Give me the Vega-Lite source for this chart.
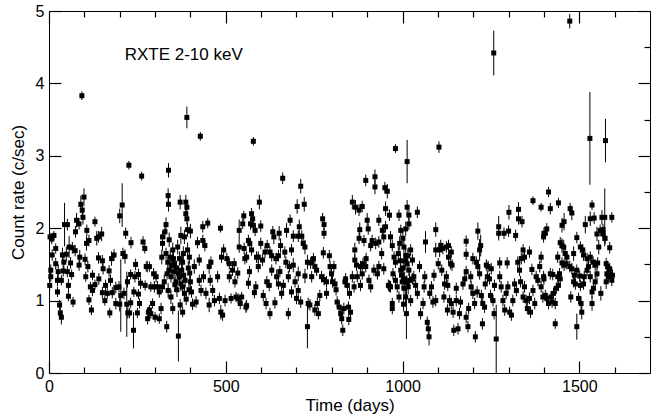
{
  "$schema": "https://vega.github.io/schema/vega-lite/v6.json",
  "width": 601,
  "height": 362,
  "autosize": {"type": "none"},
  "padding": {"left": 49, "top": 11, "right": 11, "bottom": 43},
  "config": {
    "view": {"stroke": "black", "strokeWidth": 1},
    "font": "Liberation Sans",
    "axis": {"grid": false, "labelFont": "Liberation Sans", "titleFont": "Liberation Sans", "labelFontSize": 16, "titleFontSize": 17, "titleFontWeight": "normal", "labelColor": "black", "titleColor": "black", "domainColor": "black", "tickColor": "black", "domainWidth": 1, "tickWidth": 1.2}
  },
  "resolve": {"axis": {"x": "independent", "y": "independent"}},
  "datasets": {
    "lc": [
{"t":2,"r":1.21,"e":0.07},{"t":5,"r":1.42,"e":0.08},{"t":5,"r":1.33,"e":0.07},{"t":9,"r":1.63,"e":0.08},{"t":3,"r":1.88,"e":0.06},{"t":8,"r":1.85,"e":0.07},{"t":14,"r":1.9,"e":0.06},{"t":19,"r":1.72,"e":0.07},{"t":19,"r":1.51,"e":0.08},{"t":24,"r":1.12,"e":0.07},{"t":24,"r":1.28,"e":0.08},{"t":26,"r":1.4,"e":0.1},{"t":30,"r":0.94,"e":0.07},{"t":32,"r":0.83,"e":0.08},{"t":35,"r":0.77,"e":0.1},{"t":35,"r":1.28,"e":0.07},{"t":38,"r":1.63,"e":0.1},{"t":40,"r":1.41,"e":0.08},{"t":42,"r":1.53,"e":0.12},{"t":44,"r":2.05,"e":0.3},{"t":49,"r":1.64,"e":0.1},{"t":52,"r":2.05,"e":0.08},{"t":52,"r":1.4,"e":0.08},{"t":55,"r":1.21,"e":0.09},{"t":55,"r":1.06,"e":0.07},{"t":57,"r":1.74,"e":0.15},{"t":61,"r":1.52,"e":0.08},{"t":64,"r":1.36,"e":0.07},{"t":66,"r":1.73,"e":0.08},{"t":68,"r":0.98,"e":0.07},{"t":74,"r":1.69,"e":0.08},{"t":75,"r":1.95,"e":0.08},{"t":78,"r":2.11,"e":0.1},{"t":85,"r":2.06,"e":0.08},{"t":85,"r":1.49,"e":0.08},{"t":87,"r":1.6,"e":0.1},{"t":90,"r":2.33,"e":0.12},{"t":93,"r":3.83,"e":0.06},{"t":94,"r":2.25,"e":0.08},{"t":96,"r":2.15,"e":0.1},{"t":99,"r":2.43,"e":0.12},{"t":102,"r":1.57,"e":0.08},{"t":104,"r":1.33,"e":0.07},{"t":106,"r":1.79,"e":0.1},{"t":107,"r":1.97,"e":0.08},{"t":110,"r":1.47,"e":0.08},{"t":113,"r":1.83,"e":0.08},{"t":113,"r":1.01,"e":0.07},{"t":117,"r":1.19,"e":0.07},{"t":120,"r":0.87,"e":0.07},{"t":123,"r":1.35,"e":0.07},{"t":123,"r":1.14,"e":0.08},{"t":130,"r":2.09,"e":0.07},{"t":130,"r":1.22,"e":0.07},{"t":135,"r":1.86,"e":0.1},{"t":140,"r":1.88,"e":0.08},{"t":140,"r":1.59,"e":0.08},{"t":141,"r":1.3,"e":0.08},{"t":149,"r":1.92,"e":0.1},{"t":151,"r":1.55,"e":0.08},{"t":151,"r":1.11,"e":0.08},{"t":153,"r":1.44,"e":0.08},{"t":158,"r":1.0,"e":0.07},{"t":160,"r":1.21,"e":0.08},{"t":165,"r":1.1,"e":0.07},{"t":170,"r":1.41,"e":0.08},{"t":172,"r":0.83,"e":0.07},{"t":174,"r":1.28,"e":0.08},{"t":177,"r":1.58,"e":0.1},{"t":179,"r":1.11,"e":0.08},{"t":184,"r":1.63,"e":0.08},{"t":189,"r":1.18,"e":0.08},{"t":189,"r":0.96,"e":0.08},{"t":198,"r":1.19,"e":0.08},{"t":200,"r":2.17,"e":0.1},{"t":200,"r":0.95,"e":0.1},{"t":203,"r":1.07,"e":0.5},{"t":207,"r":2.32,"e":0.3},{"t":209,"r":1.65,"e":0.08},{"t":212,"r":1.1,"e":0.08},{"t":215,"r":1.61,"e":0.1},{"t":217,"r":1.93,"e":0.08},{"t":220,"r":0.95,"e":0.45},{"t":222,"r":1.26,"e":0.08},{"t":223,"r":0.83,"e":0.08},{"t":226,"r":2.87,"e":0.06},{"t":228,"r":0.83,"e":0.07},{"t":231,"r":1.36,"e":0.07},{"t":231,"r":0.97,"e":0.07},{"t":232,"r":1.8,"e":0.08},{"t":239,"r":0.59,"e":0.25},{"t":240,"r":1.12,"e":0.07},{"t":243,"r":1.33,"e":0.08},{"t":245,"r":1.5,"e":0.08},{"t":250,"r":0.83,"e":0.07},{"t":253,"r":1.36,"e":0.08},{"t":253,"r":1.09,"e":0.07},{"t":256,"r":0.96,"e":0.07},{"t":259,"r":1.24,"e":0.08},{"t":262,"r":2.72,"e":0.06},{"t":266,"r":1.81,"e":0.08},{"t":271,"r":1.72,"e":0.07},{"t":272,"r":1.21,"e":0.07},{"t":275,"r":1.47,"e":0.07},{"t":278,"r":1.47,"e":0.08},{"t":279,"r":0.75,"e":0.08},{"t":281,"r":0.84,"e":0.07},
{"t":284,"r":1.47,"e":0.07},{"t":284,"r":0.87,"e":0.07},{"t":288,"r":0.82,"e":0.07},{"t":288,"r":1.19,"e":0.07},{"t":293,"r":0.96,"e":0.07},{"t":296,"r":1.37,"e":0.08},{"t":298,"r":1.19,"e":0.08},{"t":300,"r":0.77,"e":0.07},{"t":303,"r":1.33,"e":0.08},{"t":307,"r":1.19,"e":0.08},{"t":312,"r":1.12,"e":0.08},{"t":312,"r":0.75,"e":0.07},{"t":317,"r":0.89,"e":0.08},{"t":319,"r":1.6,"e":0.1},{"t":321,"r":1.88,"e":0.08},{"t":321,"r":1.79,"e":0.1},{"t":321,"r":1.19,"e":0.08},{"t":326,"r":1.26,"e":0.1},{"t":328,"r":1.95,"e":0.1},{"t":331,"r":2.05,"e":0.1},{"t":331,"r":1.65,"e":0.08},{"t":333,"r":0.64,"e":0.08},{"t":334,"r":1.37,"e":0.08},{"t":336,"r":1.53,"e":0.08},{"t":337,"r":2.45,"e":0.1},{"t":337,"r":1.14,"e":0.1},{"t":338,"r":2.8,"e":0.1},{"t":338,"r":2.33,"e":0.1},{"t":340,"r":1.84,"e":0.1},{"t":340,"r":1.42,"e":0.1},{"t":343,"r":1.6,"e":0.1},{"t":345,"r":1.33,"e":0.08},{"t":345,"r":1.05,"e":0.1},{"t":347,"r":1.48,"e":0.1},{"t":350,"r":1.7,"e":0.1},{"t":350,"r":0.89,"e":0.08},{"t":352,"r":1.58,"e":0.1},{"t":354,"r":1.51,"e":0.1},{"t":354,"r":1.4,"e":0.1},{"t":356,"r":1.22,"e":0.1},{"t":359,"r":1.26,"e":0.1},{"t":361,"r":1.45,"e":0.1},{"t":362,"r":1.15,"e":0.1},{"t":364,"r":1.74,"e":0.1},{"t":366,"r":0.51,"e":0.35},{"t":366,"r":1.38,"e":0.1},{"t":369,"r":1.58,"e":0.1},{"t":369,"r":1.33,"e":0.1},{"t":371,"r":2.36,"e":0.1},{"t":371,"r":0.94,"e":0.08},{"t":373,"r":1.9,"e":0.12},{"t":373,"r":1.23,"e":0.1},{"t":375,"r":1.42,"e":0.1},{"t":378,"r":1.53,"e":0.1},{"t":378,"r":1.19,"e":0.1},{"t":378,"r":0.84,"e":0.07},{"t":380,"r":1.65,"e":0.1},{"t":381,"r":1.35,"e":0.1},{"t":383,"r":1.88,"e":0.1},{"t":383,"r":1.1,"e":0.08},{"t":385,"r":1.28,"e":0.1},{"t":387,"r":2.36,"e":0.1},{"t":387,"r":2.2,"e":0.1},{"t":388,"r":1.02,"e":0.08},{"t":390,"r":3.53,"e":0.15},{"t":390,"r":2.29,"e":0.1},{"t":390,"r":2.13,"e":0.08},{"t":392,"r":1.98,"e":0.1},{"t":392,"r":1.7,"e":0.1},{"t":394,"r":1.45,"e":0.1},{"t":396,"r":1.15,"e":0.08},{"t":397,"r":1.6,"e":0.1},{"t":398,"r":1.38,"e":0.1},{"t":400,"r":1.96,"e":0.1},{"t":400,"r":1.26,"e":0.08},{"t":403,"r":1.12,"e":0.08},{"t":406,"r":0.95,"e":0.08},{"t":411,"r":1.47,"e":0.1},{"t":416,"r":0.98,"e":0.08},{"t":420,"r":1.8,"e":0.08},{"t":425,"r":1.56,"e":0.08},{"t":425,"r":1.28,"e":0.08},{"t":428,"r":3.27,"e":0.06},{"t":430,"r":1.14,"e":0.08},{"t":435,"r":2.02,"e":0.08},{"t":435,"r":1.83,"e":0.08},{"t":437,"r":1.33,"e":0.08},{"t":441,"r":1.76,"e":0.08},{"t":444,"r":1.1,"e":0.08},{"t":449,"r":2.07,"e":0.07},{"t":453,"r":1.47,"e":0.1},{"t":453,"r":0.94,"e":0.1},{"t":456,"r":1.28,"e":0.08},{"t":458,"r":1.53,"e":0.08},{"t":463,"r":1.14,"e":0.08},{"t":468,"r":1.0,"e":0.08},{"t":477,"r":1.33,"e":0.08},{"t":482,"r":1.03,"e":0.08},{"t":485,"r":2.0,"e":0.06},{"t":486,"r":0.84,"e":0.1},{"t":488,"r":1.6,"e":0.08},{"t":491,"r":0.8,"e":0.08},{"t":494,"r":1.7,"e":0.08},{"t":498,"r":1.0,"e":0.08},{"t":503,"r":1.58,"e":0.08},{"t":510,"r":1.51,"e":0.08},{"t":510,"r":1.33,"e":0.08},{"t":515,"r":1.03,"e":0.07},{"t":519,"r":1.42,"e":0.08},{"t":524,"r":1.51,"e":0.08},{"t":526,"r":1.26,"e":0.08},{"t":529,"r":1.05,"e":0.07},{"t":534,"r":1.38,"e":0.08},{"t":535,"r":1.03,"e":0.07},{"t":538,"r":1.97,"e":0.15},{"t":538,"r":1.74,"e":0.08},{"t":541,"r":0.96,"e":0.08},{"t":545,"r":1.05,"e":0.07},{"t":548,"r":2.06,"e":0.07},{"t":551,"r":2.17,"e":0.07},{"t":552,"r":1.72,"e":0.08},{"t":554,"r":1.58,"e":0.08},{"t":557,"r":0.91,"e":0.08},
{"t":559,"r":1.6,"e":0.08},{"t":559,"r":0.93,"e":0.08},{"t":564,"r":1.83,"e":0.08},{"t":564,"r":1.24,"e":0.08},{"t":567,"r":1.4,"e":0.08},{"t":568,"r":1.79,"e":0.08},{"t":570,"r":2.06,"e":0.08},{"t":573,"r":2.2,"e":0.08},{"t":573,"r":1.7,"e":0.08},{"t":576,"r":2.13,"e":0.08},{"t":578,"r":3.2,"e":0.06},{"t":578,"r":2.04,"e":0.08},{"t":581,"r":1.11,"e":0.08},{"t":583,"r":1.97,"e":0.08},{"t":585,"r":1.19,"e":0.08},{"t":587,"r":1.6,"e":0.08},{"t":592,"r":1.6,"e":0.08},{"t":592,"r":1.47,"e":0.08},{"t":595,"r":2.36,"e":0.1},{"t":599,"r":2.03,"e":0.08},{"t":599,"r":1.79,"e":0.08},{"t":604,"r":1.56,"e":0.08},{"t":606,"r":1.07,"e":0.08},{"t":611,"r":1.67,"e":0.08},{"t":614,"r":0.96,"e":0.08},{"t":616,"r":1.26,"e":0.08},{"t":617,"r":1.76,"e":0.08},{"t":623,"r":1.21,"e":0.08},{"t":625,"r":1.67,"e":0.08},{"t":625,"r":0.82,"e":0.08},{"t":630,"r":1.62,"e":0.08},{"t":630,"r":1.42,"e":0.08},{"t":633,"r":1.95,"e":0.08},{"t":636,"r":1.88,"e":0.1},{"t":639,"r":0.97,"e":0.08},{"t":642,"r":1.58,"e":0.08},{"t":644,"r":1.33,"e":0.1},{"t":649,"r":1.62,"e":0.08},{"t":649,"r":1.23,"e":0.08},{"t":651,"r":1.93,"e":0.1},{"t":653,"r":1.4,"e":0.08},{"t":655,"r":1.76,"e":0.1},{"t":658,"r":1.1,"e":0.08},{"t":661,"r":2.69,"e":0.08},{"t":663,"r":1.21,"e":0.08},{"t":667,"r":1.67,"e":0.08},{"t":670,"r":1.53,"e":0.08},{"t":672,"r":1.97,"e":0.1},{"t":677,"r":1.33,"e":0.08},{"t":677,"r":0.82,"e":0.08},{"t":680,"r":1.47,"e":0.08},{"t":682,"r":2.11,"e":0.08},{"t":686,"r":1.7,"e":0.08},{"t":686,"r":1.12,"e":0.08},{"t":691,"r":1.89,"e":0.08},{"t":691,"r":1.49,"e":0.1},{"t":696,"r":1.26,"e":0.08},{"t":700,"r":1.03,"e":0.08},{"t":702,"r":2.3,"e":0.1},{"t":705,"r":1.89,"e":0.08},{"t":705,"r":1.37,"e":0.1},{"t":705,"r":1.14,"e":0.08},{"t":708,"r":2.02,"e":0.1},{"t":712,"r":2.58,"e":0.1},{"t":712,"r":0.98,"e":0.08},{"t":715,"r":1.89,"e":0.08},{"t":719,"r":1.79,"e":0.08},{"t":722,"r":2.33,"e":0.1},{"t":724,"r":1.74,"e":0.1},{"t":724,"r":1.34,"e":0.1},{"t":731,"r":1.53,"e":0.1},{"t":731,"r":0.64,"e":0.3},{"t":733,"r":0.96,"e":0.08},{"t":738,"r":0.94,"e":0.08},{"t":740,"r":1.52,"e":0.08},{"t":743,"r":1.33,"e":0.08},{"t":748,"r":1.58,"e":0.08},{"t":752,"r":1.47,"e":0.08},{"t":752,"r":0.87,"e":0.08},{"t":757,"r":1.42,"e":0.08},{"t":759,"r":0.96,"e":0.08},{"t":762,"r":0.82,"e":0.08},{"t":766,"r":1.07,"e":0.08},{"t":771,"r":1.33,"e":0.08},{"t":774,"r":2.13,"e":0.08},{"t":776,"r":1.66,"e":0.08},{"t":778,"r":2.05,"e":0.08},{"t":778,"r":1.93,"e":0.08},{"t":778,"r":1.29,"e":0.08},{"t":785,"r":1.26,"e":0.08},{"t":785,"r":1.1,"e":0.08},{"t":793,"r":1.62,"e":0.08},{"t":795,"r":1.47,"e":0.08},{"t":799,"r":1.37,"e":0.08},{"t":802,"r":1.26,"e":0.08},{"t":806,"r":1.47,"e":0.08},{"t":809,"r":1.23,"e":0.08},{"t":812,"r":1.15,"e":0.08},{"t":815,"r":0.98,"e":0.08},{"t":821,"r":0.91,"e":0.08},{"t":825,"r":0.82,"e":0.08},{"t":828,"r":0.75,"e":0.08},{"t":831,"r":0.59,"e":0.08},{"t":834,"r":0.89,"e":0.08},{"t":837,"r":1.26,"e":0.08},
{"t":839,"r":1.3,"e":0.08},{"t":844,"r":1.21,"e":0.08},{"t":847,"r":0.91,"e":0.08},{"t":848,"r":0.74,"e":0.08},{"t":850,"r":1.1,"e":0.08},{"t":853,"r":0.84,"e":0.08},{"t":858,"r":2.36,"e":0.1},{"t":858,"r":1.33,"e":0.08},{"t":863,"r":1.19,"e":0.08},{"t":865,"r":1.7,"e":0.1},{"t":865,"r":1.56,"e":0.08},{"t":867,"r":2.29,"e":0.1},{"t":870,"r":1.49,"e":0.08},{"t":872,"r":1.33,"e":0.08},{"t":877,"r":2.25,"e":0.08},{"t":877,"r":1.86,"e":0.08},{"t":879,"r":1.98,"e":0.1},{"t":881,"r":1.47,"e":0.08},{"t":881,"r":1.21,"e":0.08},{"t":886,"r":2.3,"e":0.08},{"t":886,"r":1.37,"e":0.08},{"t":888,"r":1.51,"e":0.08},{"t":891,"r":1.83,"e":0.08},{"t":896,"r":2.66,"e":0.08},{"t":896,"r":1.47,"e":0.08},{"t":897,"r":1.58,"e":0.08},{"t":900,"r":2.11,"e":0.1},{"t":903,"r":1.99,"e":0.08},{"t":905,"r":1.28,"e":0.08},{"t":910,"r":1.76,"e":0.08},{"t":910,"r":1.19,"e":0.08},{"t":914,"r":1.83,"e":0.08},{"t":919,"r":1.42,"e":0.08},{"t":922,"r":2.71,"e":0.1},{"t":922,"r":2.57,"e":0.1},{"t":924,"r":1.79,"e":0.08},{"t":929,"r":1.37,"e":0.08},{"t":933,"r":2.11,"e":0.08},{"t":933,"r":1.81,"e":0.08},{"t":933,"r":1.47,"e":0.08},{"t":941,"r":1.65,"e":0.08},{"t":943,"r":1.97,"e":0.08},{"t":947,"r":1.88,"e":0.08},{"t":947,"r":1.44,"e":0.08},{"t":950,"r":2.56,"e":0.08},{"t":952,"r":2.27,"e":0.1},{"t":952,"r":2.02,"e":0.08},{"t":957,"r":2.51,"e":0.1},{"t":960,"r":1.21,"e":0.08},{"t":963,"r":2.18,"e":0.08},{"t":963,"r":1.2,"e":0.08},{"t":966,"r":1.88,"e":0.08},{"t":966,"r":1.19,"e":0.08},{"t":971,"r":1.76,"e":0.08},{"t":971,"r":0.96,"e":0.08},{"t":971,"r":0.89,"e":0.08},{"t":973,"r":1.37,"e":0.08},{"t":976,"r":1.6,"e":0.08},{"t":980,"r":3.1,"e":0.06},{"t":980,"r":1.53,"e":0.08},{"t":980,"r":1.28,"e":0.08},{"t":985,"r":1.19,"e":0.08},{"t":988,"r":1.65,"e":0.1},{"t":990,"r":2.18,"e":0.08},{"t":990,"r":1.05,"e":0.08},{"t":992,"r":1.79,"e":0.1},{"t":994,"r":1.55,"e":0.1},{"t":995,"r":1.97,"e":0.08},{"t":995,"r":1.42,"e":0.08},{"t":997,"r":1.35,"e":0.1},{"t":999,"r":1.26,"e":0.1},{"t":1001,"r":1.86,"e":0.1},{"t":1002,"r":1.45,"e":0.1},{"t":1003,"r":0.95,"e":0.1},{"t":1004,"r":1.74,"e":0.1},{"t":1004,"r":1.17,"e":0.1},{"t":1006,"r":1.3,"e":0.1},{"t":1007,"r":1.55,"e":0.1},{"t":1009,"r":1.99,"e":0.1},{"t":1009,"r":1.62,"e":0.1},{"t":1009,"r":1.05,"e":0.1},{"t":1011,"r":0.82,"e":0.35},{"t":1012,"r":1.25,"e":0.1},{"t":1013,"r":2.92,"e":0.3},{"t":1013,"r":2.29,"e":0.1},{"t":1013,"r":1.51,"e":0.1},{"t":1015,"r":1.62,"e":0.1},{"t":1016,"r":1.19,"e":0.1},{"t":1018,"r":2.18,"e":0.08},{"t":1018,"r":2.06,"e":0.08},{"t":1018,"r":1.42,"e":0.08},{"t":1020,"r":1.28,"e":0.1},{"t":1023,"r":1.7,"e":0.08},{"t":1023,"r":1.0,"e":0.08},{"t":1028,"r":1.56,"e":0.08},{"t":1028,"r":1.3,"e":0.08},{"t":1032,"r":1.33,"e":0.08},{"t":1037,"r":1.21,"e":0.08},{"t":1042,"r":2.22,"e":0.08},{"t":1042,"r":1.1,"e":0.08},{"t":1048,"r":1.47,"e":0.08},{"t":1051,"r":0.82,"e":0.08},{"t":1058,"r":0.96,"e":0.08},{"t":1061,"r":1.19,"e":0.08},{"t":1063,"r":1.33,"e":0.08},{"t":1065,"r":1.81,"e":0.15},{"t":1070,"r":0.7,"e":0.08},{"t":1073,"r":0.61,"e":0.08},{"t":1075,"r":0.5,"e":0.12},{"t":1077,"r":1.1,"e":0.08},{"t":1082,"r":1.19,"e":0.08},{"t":1086,"r":0.98,"e":0.08},{"t":1089,"r":1.35,"e":0.08},{"t":1094,"r":1.98,"e":0.1},{"t":1094,"r":1.7,"e":0.1},{"t":1094,"r":1.0,"e":0.08},{"t":1101,"r":1.51,"e":0.08},{"t":1103,"r":3.12,"e":0.08},{"t":1105,"r":1.7,"e":0.1},{"t":1108,"r":1.76,"e":0.08},{"t":1111,"r":1.42,"e":0.08},{"t":1114,"r":1.72,"e":0.08},{"t":1117,"r":1.05,"e":0.08},
{"t":1119,"r":1.23,"e":0.08},{"t":1124,"r":1.74,"e":0.08},{"t":1124,"r":1.33,"e":0.08},{"t":1127,"r":0.87,"e":0.08},{"t":1128,"r":1.21,"e":0.08},{"t":1130,"r":1.76,"e":0.08},{"t":1130,"r":1.6,"e":0.08},{"t":1133,"r":1.0,"e":0.08},{"t":1136,"r":1.51,"e":0.08},{"t":1138,"r":1.67,"e":0.08},{"t":1138,"r":0.96,"e":0.08},{"t":1140,"r":1.49,"e":0.08},{"t":1143,"r":0.84,"e":0.08},{"t":1145,"r":0.59,"e":0.08},{"t":1152,"r":1.0,"e":0.08},{"t":1152,"r":1.17,"e":0.08},{"t":1157,"r":0.61,"e":0.08},{"t":1161,"r":0.82,"e":0.08},{"t":1164,"r":0.98,"e":0.08},{"t":1171,"r":1.23,"e":0.08},{"t":1176,"r":1.3,"e":0.08},{"t":1180,"r":1.82,"e":0.08},{"t":1180,"r":1.64,"e":0.08},{"t":1180,"r":1.4,"e":0.08},{"t":1180,"r":0.77,"e":0.08},{"t":1185,"r":0.64,"e":0.08},{"t":1187,"r":0.89,"e":0.08},{"t":1193,"r":1.33,"e":0.08},{"t":1194,"r":1.19,"e":0.08},{"t":1199,"r":1.58,"e":0.08},{"t":1199,"r":1.1,"e":0.08},{"t":1204,"r":0.96,"e":0.08},{"t":1206,"r":0.5,"e":0.08},{"t":1209,"r":1.53,"e":0.08},{"t":1211,"r":1.12,"e":0.08},{"t":1213,"r":1.96,"e":0.12},{"t":1213,"r":1.47,"e":0.08},{"t":1218,"r":1.7,"e":0.15},{"t":1218,"r":1.37,"e":0.08},{"t":1221,"r":1.76,"e":0.15},{"t":1223,"r":1.07,"e":0.08},{"t":1226,"r":0.68,"e":0.08},{"t":1227,"r":0.96,"e":0.08},{"t":1232,"r":0.91,"e":0.08},{"t":1234,"r":1.23,"e":0.08},{"t":1237,"r":1.49,"e":0.08},{"t":1240,"r":1.33,"e":0.08},{"t":1242,"r":1.47,"e":0.08},{"t":1246,"r":1.3,"e":0.08},{"t":1249,"r":1.07,"e":0.08},{"t":1251,"r":1.44,"e":0.08},{"t":1256,"r":1.0,"e":0.08},{"t":1258,"r":4.42,"e":0.31},{"t":1259,"r":0.82,"e":0.08},{"t":1260,"r":1.21,"e":0.08},{"t":1265,"r":0.47,"e":0.47},{"t":1272,"r":2.02,"e":0.15},{"t":1272,"r":1.93,"e":0.1},{"t":1275,"r":1.52,"e":0.08},{"t":1275,"r":1.33,"e":0.08},{"t":1279,"r":1.19,"e":0.08},{"t":1284,"r":1.0,"e":0.08},{"t":1287,"r":1.93,"e":0.08},{"t":1289,"r":0.87,"e":0.08},{"t":1293,"r":1.1,"e":0.08},{"t":1296,"r":1.52,"e":0.08},{"t":1298,"r":1.19,"e":0.08},{"t":1300,"r":1.96,"e":0.08},{"t":1301,"r":2.22,"e":0.1},{"t":1303,"r":0.84,"e":0.08},{"t":1308,"r":0.8,"e":0.08},{"t":1312,"r":1.0,"e":0.08},{"t":1317,"r":1.23,"e":0.08},{"t":1320,"r":1.9,"e":0.08},{"t":1322,"r":1.14,"e":0.08},{"t":1326,"r":1.53,"e":0.08},{"t":1328,"r":2.26,"e":0.1},{"t":1328,"r":2.13,"e":0.08},{"t":1331,"r":1.42,"e":0.08},{"t":1334,"r":1.26,"e":0.08},{"t":1336,"r":1.58,"e":0.08},{"t":1338,"r":2.09,"e":0.08},{"t":1341,"r":1.7,"e":0.08},{"t":1341,"r":1.05,"e":0.08},{"t":1345,"r":1.6,"e":0.08},{"t":1345,"r":1.19,"e":0.08},{"t":1350,"r":1.0,"e":0.08},{"t":1353,"r":0.89,"e":0.08},{"t":1359,"r":1.67,"e":0.08},{"t":1359,"r":1.03,"e":0.08},{"t":1362,"r":0.84,"e":0.08},{"t":1366,"r":1.43,"e":0.08},{"t":1369,"r":2.38,"e":0.06},{"t":1369,"r":1.14,"e":0.08},{"t":1374,"r":0.96,"e":0.08},{"t":1378,"r":1.33,"e":0.08},{"t":1383,"r":1.28,"e":0.08},{"t":1388,"r":1.47,"e":0.08},{"t":1392,"r":2.29,"e":0.06},{"t":1392,"r":1.6,"e":0.08},{"t":1392,"r":1.19,"e":0.08},{"t":1397,"r":1.05,"e":0.08},{"t":1400,"r":1.93,"e":0.08},{"t":1400,"r":1.3,"e":0.08},
{"t":1399,"r":1.88,"e":0.08},{"t":1399,"r":1.33,"e":0.08},{"t":1404,"r":1.93,"e":0.08},{"t":1404,"r":1.07,"e":0.08},{"t":1408,"r":1.99,"e":0.08},{"t":1408,"r":1.03,"e":0.08},{"t":1413,"r":2.5,"e":0.07},{"t":1413,"r":0.96,"e":0.08},{"t":1418,"r":2.27,"e":0.08},{"t":1418,"r":1.37,"e":0.08},{"t":1420,"r":1.05,"e":0.08},{"t":1423,"r":0.98,"e":0.08},{"t":1425,"r":1.36,"e":0.08},{"t":1427,"r":1.1,"e":0.08},{"t":1432,"r":0.96,"e":0.08},{"t":1432,"r":0.68,"e":0.07},{"t":1435,"r":1.17,"e":0.08},{"t":1439,"r":1.6,"e":0.08},{"t":1439,"r":1.33,"e":0.08},{"t":1441,"r":2.35,"e":0.07},{"t":1441,"r":1.21,"e":0.08},{"t":1444,"r":1.37,"e":0.08},{"t":1446,"r":1.8,"e":0.08},{"t":1446,"r":1.3,"e":0.08},{"t":1451,"r":2.04,"e":0.1},{"t":1451,"r":1.76,"e":0.1},{"t":1451,"r":1.52,"e":0.08},{"t":1456,"r":1.74,"e":0.1},{"t":1457,"r":2.09,"e":0.12},{"t":1457,"r":1.49,"e":0.08},{"t":1460,"r":1.65,"e":0.08},{"t":1463,"r":1.51,"e":0.08},{"t":1465,"r":1.6,"e":0.08},{"t":1473,"r":4.86,"e":0.1},{"t":1473,"r":1.47,"e":0.08},{"t":1474,"r":2.27,"e":0.08},{"t":1476,"r":1.05,"e":0.08},{"t":1479,"r":2.21,"e":0.1},{"t":1479,"r":1.44,"e":0.08},{"t":1484,"r":1.65,"e":0.1},{"t":1484,"r":1.26,"e":0.08},{"t":1486,"r":1.35,"e":0.08},{"t":1489,"r":1.23,"e":0.08},{"t":1493,"r":1.87,"e":0.08},{"t":1493,"r":1.42,"e":0.08},{"t":1493,"r":0.64,"e":0.18},{"t":1498,"r":1.03,"e":0.08},{"t":1501,"r":1.34,"e":0.08},{"t":1503,"r":1.74,"e":0.08},{"t":1503,"r":1.21,"e":0.08},{"t":1505,"r":0.96,"e":0.1},{"t":1507,"r":0.84,"e":0.1},{"t":1510,"r":1.7,"e":0.08},{"t":1512,"r":1.63,"e":0.08},{"t":1512,"r":1.23,"e":0.08},{"t":1514,"r":1.33,"e":0.08},{"t":1517,"r":2.05,"e":0.12},{"t":1522,"r":1.58,"e":0.08},{"t":1522,"r":1.42,"e":0.08},{"t":1526,"r":1.47,"e":0.08},{"t":1530,"r":3.24,"e":0.64},{"t":1531,"r":2.13,"e":0.1},{"t":1531,"r":1.6,"e":0.08},{"t":1531,"r":1.33,"e":0.08},{"t":1536,"r":2.32,"e":0.07},{"t":1536,"r":1.12,"e":0.08},{"t":1536,"r":0.96,"e":0.1},{"t":1539,"r":1.53,"e":0.08},{"t":1540,"r":1.17,"e":0.08},{"t":1542,"r":2.14,"e":0.08},{"t":1545,"r":1.49,"e":0.08},{"t":1545,"r":1.26,"e":0.08},{"t":1550,"r":1.92,"e":0.1},{"t":1550,"r":1.37,"e":0.08},{"t":1552,"r":1.52,"e":0.08},{"t":1555,"r":1.74,"e":0.1},{"t":1559,"r":1.97,"e":0.08},{"t":1561,"r":1.1,"e":0.1},{"t":1564,"r":2.15,"e":0.1},{"t":1567,"r":1.98,"e":0.08},{"t":1567,"r":1.92,"e":0.1},{"t":1572,"r":2.15,"e":0.4},{"t":1573,"r":1.86,"e":0.08},{"t":1574,"r":3.21,"e":0.3},{"t":1576,"r":1.51,"e":0.08},{"t":1576,"r":1.26,"e":0.1},{"t":1578,"r":1.37,"e":0.08},{"t":1580,"r":1.47,"e":0.08},{"t":1583,"r":1.33,"e":0.08},{"t":1586,"r":1.73,"e":0.08},{"t":1586,"r":1.44,"e":0.08},{"t":1588,"r":1.37,"e":0.08},{"t":1592,"r":2.15,"e":0.07},{"t":1592,"r":1.28,"e":0.08},{"t":1594,"r":1.35,"e":0.08}
    ],
    "lab": [{"t": 214, "r": 4.39, "label": "RXTE 2-10 keV"}]
  },
  "layer": [
    {
      "data": {"name": "lc"},
      "mark": {"type": "errorbar", "ticks": false, "thickness": 1, "color": "black"},
      "encoding": {
        "x": {"field": "t", "type": "quantitative", "scale": {"domain": [0, 1700], "nice": false, "zero": false},
              "axis": {"orient": "top", "values": [0, 100, 200, 300, 400, 500, 600, 700, 800, 900, 1000, 1100, 1200, 1300, 1400, 1500, 1600], "labels": false, "domain": false, "ticks": true, "tickSize": {"condition": {"test": "datum.value % 500 === 0", "value": -12}, "value": -6}, "title": null}},
        "y": {"field": "r", "type": "quantitative", "scale": {"domain": [0, 5], "nice": false, "zero": false},
              "axis": {"orient": "right", "values": [0, 0.5, 1, 1.5, 2, 2.5, 3, 3.5, 4, 4.5, 5], "labels": false, "domain": false, "ticks": true, "tickSize": {"condition": {"test": "datum.value % 1 === 0", "value": -12}, "value": -6}, "title": null}},
        "yError": {"field": "e"}
      }
    },
    {
      "data": {"name": "lc"},
      "mark": {"type": "point", "shape": "square", "filled": true, "size": 25, "color": "black", "opacity": 1},
      "encoding": {
        "x": {"field": "t", "type": "quantitative", "scale": {"domain": [0, 1700], "nice": false, "zero": false},
              "axis": {"orient": "bottom", "values": [0, 100, 200, 300, 400, 500, 600, 700, 800, 900, 1000, 1100, 1200, 1300, 1400, 1500, 1600], "format": "d", "labelExpr": "datum.value % 500 === 0 ? datum.label : ''", "ticks": true, "tickSize": {"condition": {"test": "datum.value % 500 === 0", "value": -12}, "value": -6}, "domain": false, "labelPadding": 17, "labelFlush": false, "labelOverlap": false, "title": "Time (days)", "titlePadding": -3}},
        "y": {"field": "r", "type": "quantitative", "scale": {"domain": [0, 5], "nice": false, "zero": false},
              "axis": {"orient": "left", "values": [0, 0.5, 1, 1.5, 2, 2.5, 3, 3.5, 4, 4.5, 5], "format": "d", "labelExpr": "datum.value % 1 === 0 ? datum.label : ''", "ticks": true, "tickSize": {"condition": {"test": "datum.value % 1 === 0", "value": -12}, "value": -6}, "domain": false, "labelPadding": 17, "labelFlush": false, "labelOverlap": false, "title": "Count rate (c/sec)", "titlePadding": 8}}
      }
    },
    {
      "data": {"name": "lab"},
      "mark": {"type": "text", "align": "left", "baseline": "middle", "fontSize": 17, "font": "Liberation Sans", "color": "black"},
      "encoding": {
        "x": {"field": "t", "type": "quantitative", "scale": {"domain": [0, 1700], "nice": false, "zero": false}, "axis": null},
        "y": {"field": "r", "type": "quantitative", "scale": {"domain": [0, 5], "nice": false, "zero": false}, "axis": null},
        "text": {"field": "label"}
      }
    }
  ]
}
